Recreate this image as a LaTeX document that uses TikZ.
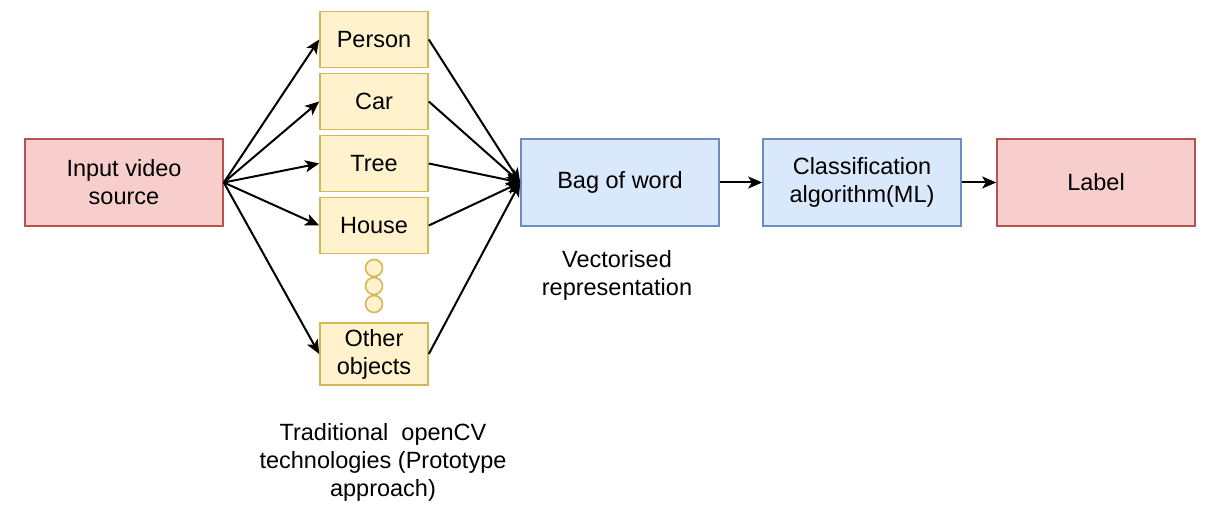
\documentclass[tikz,border=0pt]{standalone}
\usepackage{fontspec}
\setmainfont{Liberation Sans}
\usetikzlibrary{arrows.meta}
\definecolor{yfill}{HTML}{FFF2CC}
\definecolor{ystroke}{HTML}{D6B656}
\definecolor{rfill}{HTML}{F8CECC}
\definecolor{rstroke}{HTML}{B85450}
\definecolor{bfill}{HTML}{DAE8FC}
\definecolor{bstroke}{HTML}{6C8EBF}
\begin{document}
\begin{tikzpicture}[x=1pt,y=-1pt,
  txt/.style={inner sep=0pt, align=center, font=\fontsize{23.5}{28}\selectfont},
  box/.style={txt, draw, line width=1.6pt},
  redbox/.style={box, fill=rfill, draw=rstroke, minimum width=198pt, minimum height=87pt},
  bluebox/.style={box, fill=bfill, draw=bstroke, minimum width=198pt, minimum height=87pt},
  objbox/.style={box, fill=yfill, draw=ystroke, minimum width=108pt, minimum height=56pt},
  dot/.style={circle, draw=ystroke, fill=yfill, line width=1.6pt, minimum size=17pt, inner sep=0pt},
  arr/.style={line width=2pt, -{Stealth[length=14pt,width=12pt,inset=3.5pt]}}]
\useasboundingbox (0,0) rectangle (1224,516);
\node[redbox] (in) at (124,182.5) {Input video\\source};
\node[objbox] (person) at (374,39.5) {Person};
\node[objbox] (car) at (374,101.5) {Car};
\node[objbox] (tree) at (374,163.5) {Tree};
\node[objbox] (house) at (374,225.5) {House};
\node[dot] (d1) at (374,268) {};
\node[dot] (d2) at (374,286) {};
\node[dot] (d3) at (374,304) {};
\node[objbox, minimum height=62pt] (other) at (374,354) {Other\\objects};
\node[bluebox] (bag) at (620,182.5) {Bag of word};
\node[bluebox] (cls) at (862,182.5) {Classification\\algorithm(ML)};
\node[redbox] (label) at (1096,182.5) {Label};
\node[txt] (vec) at (617,275.5) {Vectorised\\representation};
\node[txt] (trad) at (383,462) {Traditional\ \ openCV\\technologies (Prototype\\approach)};
\foreach \n in {person,car,tree,house,other}{
  \draw[arr] (in.east) -- (\n.west);
  \draw[arr] (\n.east) -- (bag.west);
}
\draw[arr] (bag) -- (cls);
\draw[arr] (cls) -- (label);
\end{tikzpicture}
\end{document}
